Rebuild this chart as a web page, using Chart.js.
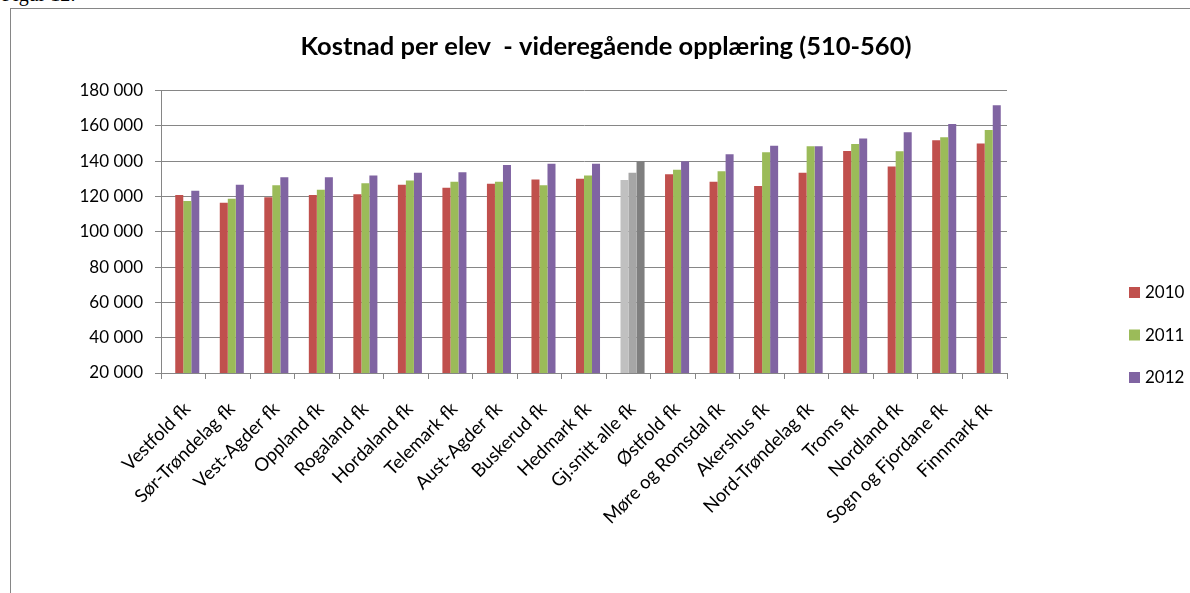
<!DOCTYPE html>
<html>
<head>
<meta charset="utf-8">
<script src="https://cdn.jsdelivr.net/npm/chart.js@4.4.1/dist/chart.umd.min.js"></script>
<style>
  html, body { margin: 0; padding: 0; background: #fff; }
  #wrap { position: relative; width: 1190px; height: 593px; overflow: hidden; }
  #fig { position: absolute; left: 2px; top: -17px; font: 20px "Liberation Serif", serif; color: #000; }
  #frame { position: absolute; left: 10px; top: 8px; width: 1180px; height: 600px;
           border-left: 1px solid #868686; border-top: 1px solid #868686; }
  canvas { position: absolute; left: 0; top: 0; }
</style>
</head>
<body>
<div id="wrap">
  <div id="fig">Figur 12:</div>
  <div id="frame"></div>
  <canvas id="kostChart" width="1190" height="593"></canvas>
</div>
<script>
// Kostnad per elev - videregående opplæring
const categories = ['Vestfold fk', 'Sør-Trøndelag fk', 'Vest-Agder fk', 'Oppland fk', 'Rogaland fk',
    'Hordaland fk', 'Telemark fk', 'Aust-Agder fk', 'Buskerud fk', 'Hedmark fk', 'Gj.snitt alle fk',
    'Østfold fk', 'Møre og Romsdal fk', 'Akershus fk', 'Nord-Trøndelag fk', 'Troms fk',
    'Nordland fk', 'Sogn og Fjordane fk', 'Finnmark fk'];

// first (unnamed) series is almost empty, only a sliver under Vestfold
const seriesBlank = [19000, null, null, null, null, null, null, null, null, null, null,
    null, null, null, null, null, null, null, null];
const values2010 = [120900, 116400, 119600, 120800, 121300, 126600, 124900, 127200, 129600, 130000,
    129400, 132600, 128300, 126000, 133400, 145800, 137000, 151900, 150000];
const values2011 = [117400, 118700, 126400, 123800, 127500, 129100, 128300, 128300, 126400, 131900,
    133400, 135100, 134300, 145100, 148500, 149800, 145700, 153600, 157700];
const values2012 = [123200, 126600, 130900, 130900, 131900, 133400, 133800, 137900, 138500, 138500,
    140000, 140000, 144000, 148700, 148500, 152800, 156400, 161100, 171700];

const seriesLabels = ['2010', '2011', '2012'];
const yTicks = [20000, 40000, 60000, 80000, 100000, 120000, 140000, 160000, 180000];

const avgIndex = categories.indexOf('Gj.snitt alle fk');
const gridColor = '#868686';
const fontFamily = 'Lato, "Open Sans", sans-serif';

function colorsFor(main, avg) {
    return categories.map((c, i) => i === avgIndex ? avg : main);
}

function fmt(v) {
    return String(v).replace(/\B(?=(\d{3})+(?!\d))/g, ' ');
}

// legend drawn at the right, like the Excel original
const sideLegend = {
    id: 'sideLegend',
    afterDraw(chart) {
        const ctx = chart.ctx;
        ctx.save();
        ctx.font = '17px ' + fontFamily;
        ctx.textBaseline = 'middle';
        ctx.textAlign = 'left';
        let y = 293;
        chart.data.datasets.forEach(ds => {
            if (!ds.label) return;
            ctx.fillStyle = ds.legendColor;
            ctx.fillRect(1129, y - 6, 11, 11);
            ctx.fillStyle = '#000';
            ctx.fillText(ds.label, 1145, y);
            y += 42.5;
        });
        ctx.restore();
    }
};

const ctx = document.getElementById('kostChart').getContext('2d');
new Chart(ctx, {
    type: 'bar',
    data: {
        labels: categories,
        datasets: [
            { label: '', data: seriesBlank, backgroundColor: '#4F81BD' },
            { label: seriesLabels[0], data: values2010, backgroundColor: colorsFor('#C0504D', '#C0C0C0'), legendColor: '#C0504D' },
            { label: seriesLabels[1], data: values2011, backgroundColor: colorsFor('#9BBB59', '#A6A6A6'), legendColor: '#9BBB59' },
            { label: seriesLabels[2], data: values2012, backgroundColor: colorsFor('#8064A2', '#7F7F7F'), legendColor: '#8064A2' }
        ]
    },
    options: {
        responsive: false,
        animation: false,
        layout: { padding: { left: 22, right: 0, top: 0, bottom: 0 } },
        datasets: {
            bar: { categoryPercentage: 0.72, barPercentage: 1.0, borderWidth: 0 }
        },
        plugins: {
            legend: { display: false },
            tooltip: { enabled: false },
            title: {
                display: true,
                text: 'Kostnad per elev  - videregående opplæring (510-560)',
                color: '#000',
                font: { family: fontFamily, size: 25.5, weight: 'bold' },
                padding: { top: 31, bottom: 29 }
            }
        },
        scales: {
            x: {
                grid: { display: true, drawOnChartArea: false, drawTicks: true, tickLength: 6, offset: true, color: gridColor },
                border: { display: true, color: gridColor, width: 1 },
                ticks: {
                    color: '#000',
                    font: { family: fontFamily, size: 18.5 },
                    minRotation: 45, maxRotation: 45,
                    autoSkip: false,
                    padding: 19,
                    labelOffset: 4
                },
                afterFit(scale) { scale.height = 220; }
            },
            y: {
                min: yTicks[0],
                max: yTicks[yTicks.length - 1],
                afterBuildTicks(scale) { scale.ticks = yTicks.map(v => ({ value: v })); },
                grid: { color: gridColor, tickLength: 6, lineWidth: 1 },
                border: { display: true, color: gridColor, width: 1 },
                ticks: {
                    color: '#000',
                    font: { family: fontFamily, size: 17 },
                    padding: 12,
                    callback: v => fmt(v)
                },
                afterFit(scale) { scale.width = 139; }
            },
            // empty right-hand space where the legend sits
            legendSpace: {
                type: 'linear',
                position: 'right',
                display: true,
                grid: { display: false },
                border: { display: false },
                ticks: { display: false },
                afterFit(scale) { scale.width = 183; }
            }
        }
    },
    plugins: [sideLegend]
});
</script>
</body>
</html>
